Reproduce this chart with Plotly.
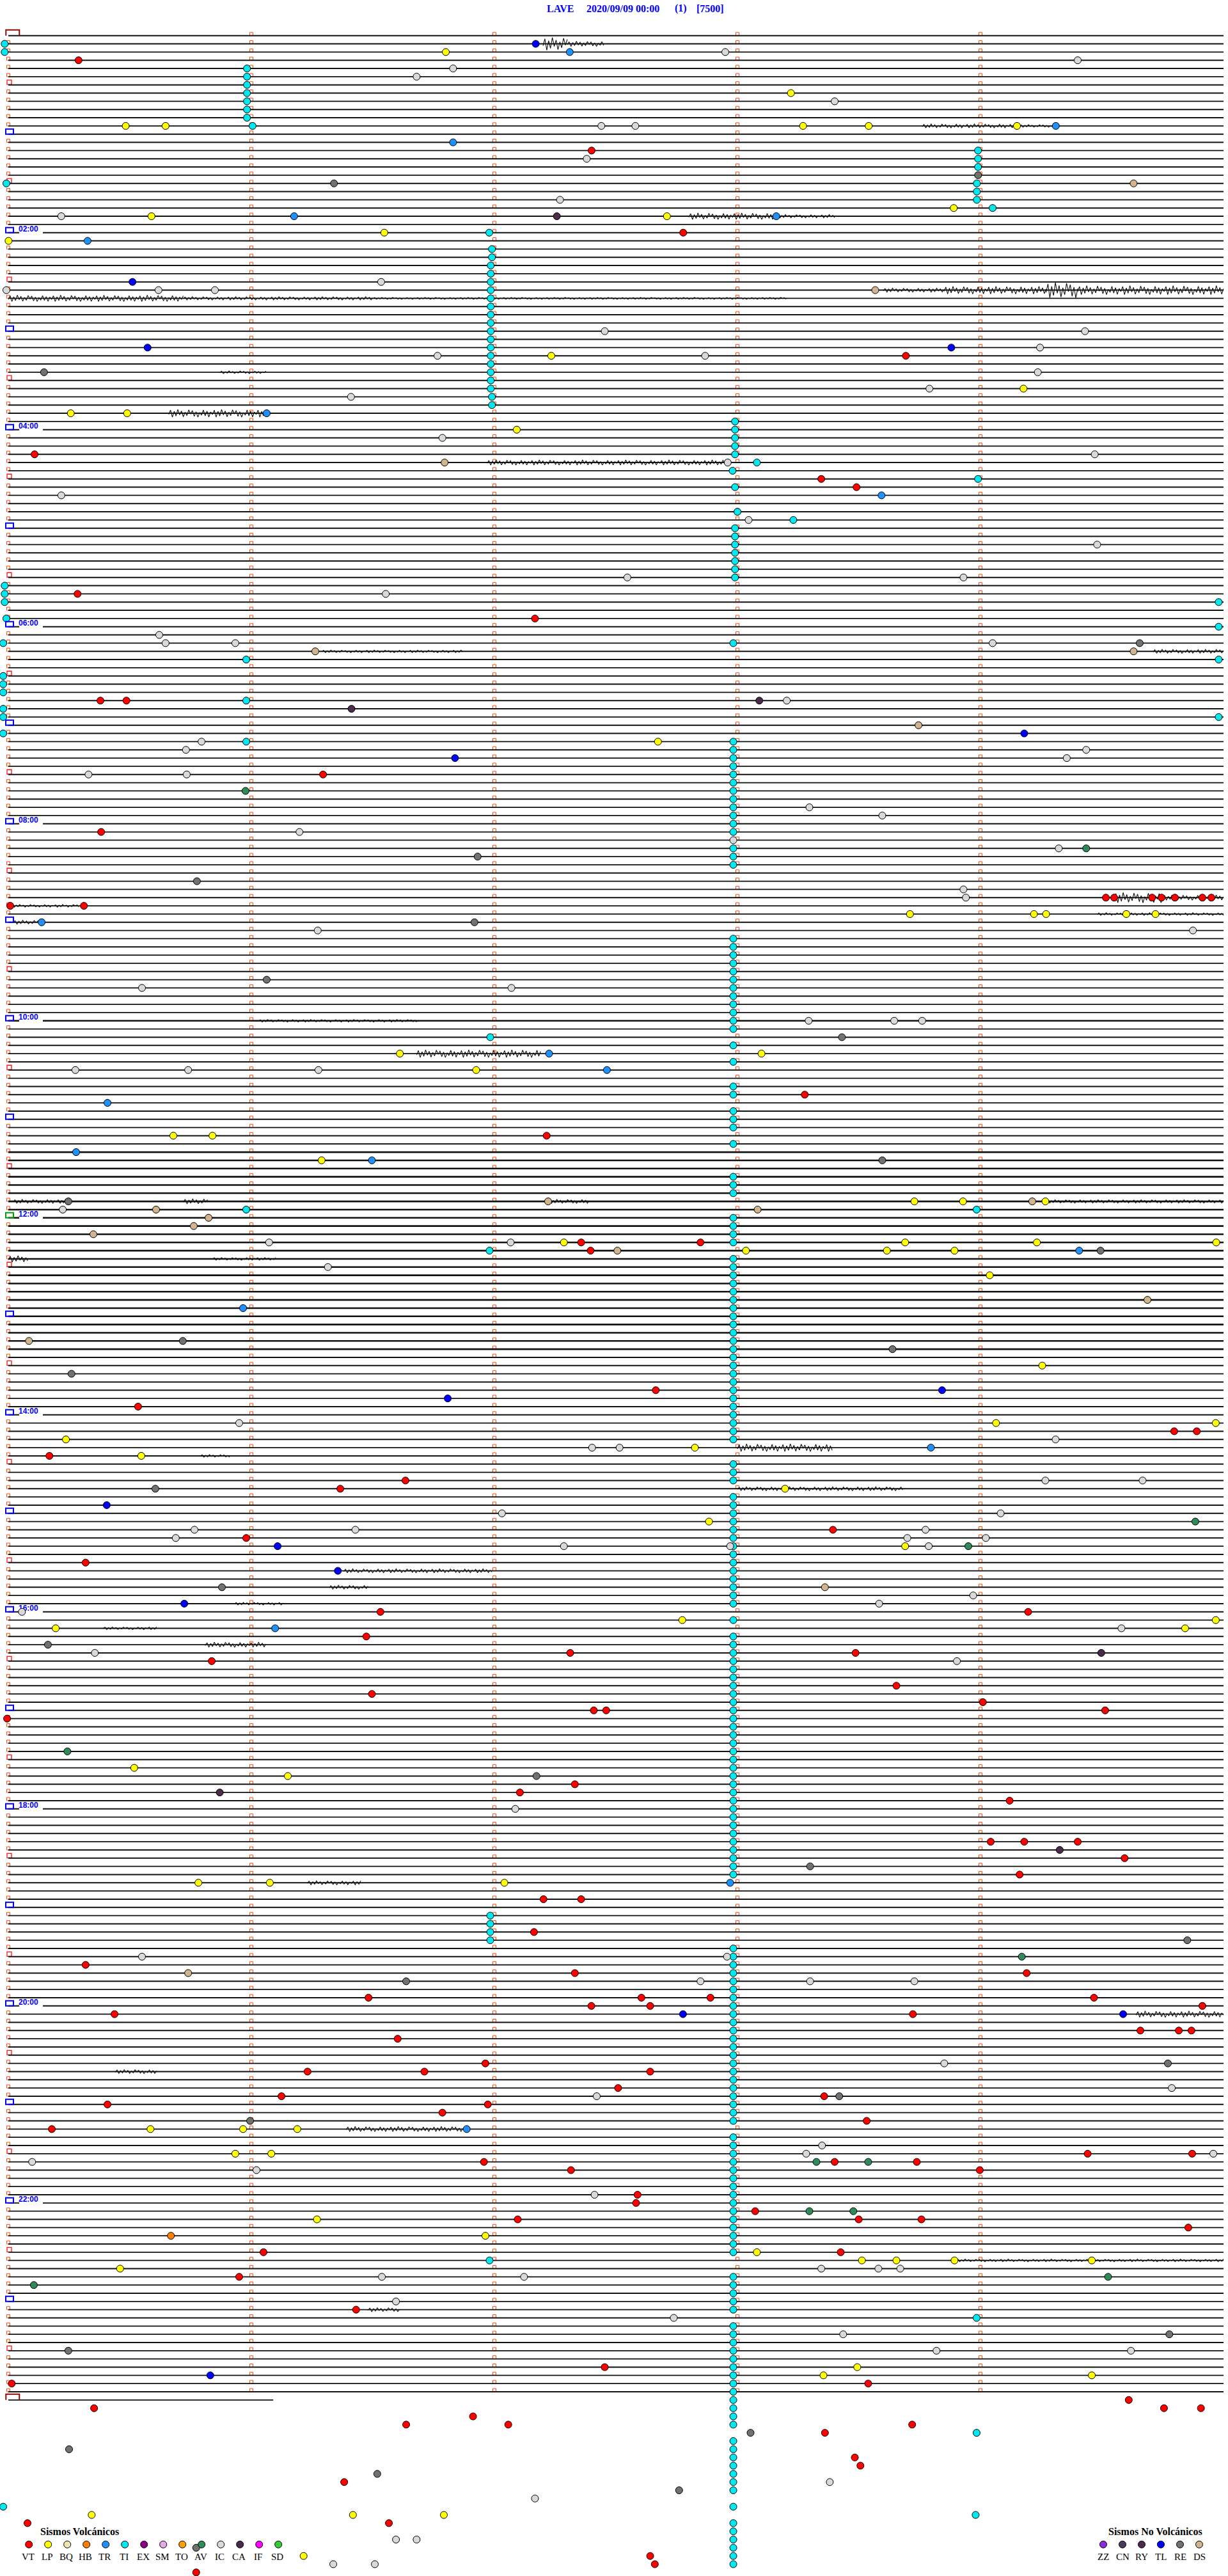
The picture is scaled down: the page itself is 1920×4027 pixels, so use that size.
import plotly.graph_objects as go

# ------------------------------------------------------------------ DATA
STATION = "LAVE"
START_LABEL = "2020/09/09 00:00"
CHANNEL_LABEL = "(1)"
SCALE_LABEL = "[7500]"

N_ROWS = 289            # 5-minute rows; row 288 is the partial one
ROW_MINUTES = 5.0
LAST_ROW_END = 1.09     # minutes drawn on the partial last row
MINUTE_TICKS = [0, 1, 2, 3, 4]

HOUR_LABEL_ROWS = [24, 48, 72, 96, 120, 144, 168, 192, 216, 240, 264]
HOUR_LABELS = ["02:00", "04:00", "06:00", "08:00", "10:00", "12:00",
               "14:00", "16:00", "18:00", "20:00", "22:00"]
HOUR_BOX_ROWS = [12, 24, 36, 48, 60, 72, 84, 96, 108, 120, 132, 144,
                 156, 168, 180, 192, 204, 216, 228, 240, 252, 264, 276]
GREEN_HOUR_ROWS = [144]
HALF_HOUR_ROWS = [6, 18, 30, 42, 54, 66, 78, 90, 102, 114, 126, 138,
                  150, 162, 174, 186, 198, 210, 222, 234, 246, 258, 270, 282]
DAY_ROWS = [0, 288]
BUSY_ROWS = [120, 136, 137, 138, 139, 140, 141, 142, 143, 144, 145, 146, 147,
             148, 149, 150, 151, 152, 153, 154, 155, 156, 157, 158, 159, 160]

# (row, start minute, end minute, half amplitude in px)
BURSTS = [
    (1, 2.20, 2.30, 10), (1, 2.30, 2.45, 4),
    (11, 3.76, 4.16, 3), (11, 4.16, 4.31, 2),
    (22, 2.80, 3.16, 5), (22, 3.16, 3.40, 2.5),
    (31, 3.60, 3.85, 3), (31, 3.85, 4.27, 6), (31, 4.27, 4.40, 12), (31, 4.40, 5.0, 7),
    (32, 0.0, 0.72, 5), (32, 0.72, 1.5, 2.5), (32, 1.5, 3.2, 1.5),
    (41, 0.87, 1.06, 2), (46, 0.66, 1.05, 6), (52, 1.97, 2.97, 4),
    (75, 1.29, 1.87, 2), (75, 4.71, 5.0, 3),
    (105, 4.55, 4.75, 8), (105, 4.75, 5.0, 4), (106, 0.01, 0.29, 2),
    (107, 4.48, 5.0, 2), (108, 0.02, 0.13, 3), (120, 1.03, 1.68, 2),
    (124, 1.68, 2.19, 6),
    (142, 0.02, 0.25, 3), (142, 0.72, 0.82, 4), (142, 2.22, 2.39, 3), (142, 4.27, 5.0, 2.5),
    (149, 0.0, 0.08, 5), (149, 0.84, 1.10, 2),
    (172, 3.0, 3.39, 6), (173, 0.79, 0.91, 2), (177, 3.0, 3.68, 3),
    (187, 1.38, 1.99, 3), (189, 1.32, 1.48, 3), (191, 0.93, 1.13, 2),
    (194, 0.39, 0.61, 2), (196, 0.81, 1.06, 4), (225, 1.23, 1.45, 3),
    (241, 4.64, 5.0, 5), (248, 0.44, 0.61, 3), (255, 1.39, 1.87, 4),
    (271, 3.9, 5.0, 2), (277, 1.48, 1.61, 3),
]
# hand-drawn jagged shape used to draw the bursts (relative amplitudes)
WIGGLE = [0.3, -0.8, 1.0, -0.5, 0.7, -1.0, 0.4, -0.6, 0.9, -0.3, 0.6, -0.9,
          0.2, -0.7, 0.8, -0.4, 1.0, -0.2, 0.5, -0.85, 0.65, -0.55, 0.95, -0.35]

# events: (row, minute within row)
EV_TI = [
    (1, -0.015), (2, -0.015), (4, 0.982), (5, 0.982), (6, 0.982), (7, 0.982), (8, 0.982),
    (9, 0.982), (10, 0.982), (11, 1.005), (14, 3.99), (15, 3.99), (16, 3.99), (18, 3.985),
    (19, 3.985), (20, 3.985), (21, 4.05), (18, -0.008), (24, 1.979),
    (26, 1.99), (27, 1.99), (28, 1.985), (29, 1.985), (30, 1.985), (31, 1.985), (32, 1.985),
    (33, 1.985), (34, 1.985), (35, 1.985), (36, 1.985), (37, 1.985), (38, 1.985), (39, 1.985),
    (40, 1.985), (41, 1.985), (42, 1.985), (43, 1.985), (44, 1.99), (45, 1.99),
    (47, 2.99), (48, 2.99), (49, 2.99), (50, 2.99), (51, 2.99), (52, 3.08), (53, 2.98),
    (54, 3.99), (55, 2.99), (58, 3.00), (59, 3.23), (60, 2.99), (61, 2.99), (62, 2.99),
    (63, 2.99), (64, 2.99), (65, 2.99), (66, 2.99),
    (67, -0.015), (68, -0.015), (69, -0.015), (69, 4.98), (71, -0.008), (72, 4.98),
    (74, -0.021), (74, 2.983), (76, 0.979), (76, 4.98), (78, -0.021), (79, -0.021),
    (80, -0.021), (81, 0.979), (82, -0.021), (83, -0.021), (83, 4.98), (85, -0.021), (86, 0.979),
    (86, 2.983), (87, 2.983), (88, 2.983), (89, 2.983), (90, 2.983), (91, 2.983), (92, 2.983),
    (93, 2.983), (94, 2.983), (95, 2.983), (96, 2.983), (97, 2.983), (99, 2.983), (100, 2.983),
    (101, 2.983), (110, 2.983), (111, 2.983), (112, 2.983), (113, 2.983), (114, 2.983),
    (115, 2.983), (116, 2.983), (117, 2.983), (118, 2.983), (119, 2.983), (120, 2.983),
    (121, 2.983), (122, 1.983), (123, 2.983), (125, 2.983), (128, 2.983), (129, 2.983),
    (131, 2.983), (132, 2.983), (133, 2.983), (135, 2.983), (139, 2.983), (140, 2.983),
    (141, 2.983), (143, 0.979), (143, 3.984), (144, 2.983), (145, 2.983), (146, 2.983),
    (147, 2.983), (148, 1.98), (149, 2.983), (150, 2.983), (151, 2.983), (152, 2.983),
    (153, 2.983), (154, 2.983), (155, 2.983), (156, 2.983), (157, 2.983), (158, 2.983),
    (159, 2.983), (160, 2.983), (161, 2.983), (162, 2.983), (163, 2.983), (164, 2.983),
    (165, 2.983), (166, 2.983), (167, 2.983), (168, 2.983), (169, 2.983), (170, 2.983),
    (171, 2.983), (174, 2.983), (175, 2.983), (176, 2.983), (178, 2.983), (179, 2.983),
    (180, 2.983), (181, 2.983), (182, 2.983), (183, 2.983), (184, 2.983), (185, 2.983),
    (186, 2.983), (187, 2.983), (188, 2.983), (189, 2.983), (190, 2.983), (191, 2.983),
    (193, 2.983), (195, 2.983), (196, 2.983), (197, 2.983), (198, 2.983), (199, 2.983),
    (200, 2.983), (201, 2.983), (202, 2.983), (203, 2.983), (204, 2.983), (205, 2.983),
    (206, 2.983), (207, 2.983), (208, 2.983), (209, 2.983), (210, 2.983), (211, 2.983),
    (212, 2.983), (213, 2.983), (214, 2.983), (215, 2.983), (216, 2.983), (217, 2.983),
    (218, 2.983), (219, 2.983), (220, 2.983), (221, 2.983), (222, 2.983), (223, 2.983),
    (224, 2.983), (229, 1.983), (230, 1.983), (231, 1.983), (232, 1.983),
    (233, 2.983), (234, 2.983), (235, 2.983), (236, 2.983), (237, 2.983), (238, 2.983),
    (239, 2.983), (240, 2.983), (241, 2.983), (242, 2.983), (243, 2.983), (244, 2.983),
    (245, 2.983), (246, 2.983), (247, 2.983), (248, 2.983), (249, 2.983), (250, 2.983),
    (251, 2.983), (252, 2.983), (253, 2.983), (254, 2.983), (256, 2.983), (257, 2.983),
    (258, 2.983), (259, 2.983), (260, 2.983), (261, 2.983), (262, 2.983), (263, 2.983),
    (264, 2.983), (265, 2.983), (266, 2.983), (267, 2.983), (268, 2.983), (269, 2.983),
    (270, 2.983), (271, 1.98), (273, 2.983), (274, 2.983), (275, 2.983), (276, 2.983),
    (277, 2.983), (278, 3.984), (279, 2.983), (280, 2.983), (281, 2.983), (282, 2.983),
    (283, 2.983), (284, 2.983), (285, 2.983), (286, 2.983), (287, 2.983), (288, 2.983),
    (289, 2.983), (290, 2.983), (291, 2.983), (292, 3.984), (293, 2.983), (294, 2.983),
    (295, 2.983), (296, 2.983), (297, 2.983), (298, 2.983), (299, 2.983), (301, -0.021),
    (301, 2.983), (302, 3.98), (303, 2.983), (304, 2.983), (305, 2.983), (306, 2.983),
    (307, 2.983), (308, 2.983),
]
EV_VT = [
    (3, 0.289), (14, 2.40), (24, 2.777), (39, 3.693), (51, 0.108), (54, 3.345), (55, 3.49),
    (68, 0.285), (71, 2.167), (81, 0.379), (81, 0.486), (90, 1.295), (97, 0.382),
    (105, 4.516), (105, 4.55), (105, 4.706), (105, 4.745), (105, 4.80), (105, 4.913),
    (105, 4.95), (106, 0.008), (106, 0.311), (129, 3.277), (134, 2.215), (147, 2.357),
    (147, 2.848), (148, 2.396), (165, 2.664), (167, 0.534), (170, 4.797), (170, 4.89),
    (173, 0.169), (176, 1.634), (177, 1.366), (182, 3.393), (183, 0.979), (186, 0.318),
    (192, 1.531), (192, 4.196), (195, 1.473), (197, 2.312), (197, 3.486), (198, 0.837),
    (201, 3.654), (202, 1.496), (203, 4.01), (204, 2.409), (204, 2.46), (204, 4.513),
    (205, -0.005), (213, 2.331), (214, 2.105), (215, 4.12), (220, 4.042), (220, 4.18),
    (220, 4.40), (222, 4.593), (224, 4.161), (227, 2.202), (227, 2.357), (231, 2.163),
    (235, 0.318), (236, 2.331), (236, 4.19), (239, 1.482), (239, 2.605), (239, 2.889),
    (239, 4.467), (240, 2.399), (240, 2.641), (240, 4.913), (241, 0.437), (241, 3.722),
    (243, 4.658), (243, 4.816), (243, 4.868), (244, 1.602), (247, 1.963), (248, 1.231),
    (248, 1.712), (248, 2.641), (250, 2.509), (251, 1.124), (251, 3.357), (252, 0.408),
    (252, 1.973), (253, 1.786), (254, 3.532), (255, 0.179), (258, 4.441), (258, 4.871),
    (259, 1.957), (259, 3.40), (259, 3.738), (260, 2.315), (260, 3.997), (263, 2.589),
    (264, 2.583), (265, 3.073), (266, 2.096), (266, 3.499), (266, 3.757), (267, 4.855),
    (270, 1.05), (270, 3.425), (273, 0.95), (277, 1.431), (284, 2.454), (286, 0.014),
    (286, 3.538), (288, 4.61), (289, 0.353), (289, 4.755), (289, 4.907), (290, 1.912),
    (291, 1.637), (291, 2.057), (291, 3.719), (292, 3.36), (295, 3.483), (296, 3.506),
    (298, 1.382), (303, 0.079), (303, 1.566), (307, 2.641), (308, 2.66), (309, 0.773),
]
EV_LP = [
    (2, 1.80), (7, 3.22), (11, 0.483), (11, 0.647), (11, 3.27), (11, 3.54), (11, 4.15),
    (21, 3.89), (22, 0.589), (22, 2.71), (24, 1.547), (25, 0.001), (39, 2.234), (43, 4.177),
    (46, 0.257), (46, 0.489), (48, 2.092), (86, 2.673),
    (107, 3.71), (107, 4.22), (107, 4.27), (107, 4.60), (107, 4.72), (124, 1.611),
    (124, 3.099), (126, 1.925), (134, 0.679), (134, 0.84), (137, 1.289), (142, 3.728),
    (142, 3.928), (142, 4.267), (147, 2.286), (147, 3.69), (147, 4.232), (147, 4.97),
    (148, 3.035), (148, 3.615), (148, 3.893), (151, 4.038), (162, 4.254), (169, 4.064),
    (169, 4.968), (171, 0.237), (172, 2.825), (173, 0.547), (177, 3.196), (181, 2.883),
    (184, 3.69), (193, 2.773), (193, 4.968), (194, 0.195), (194, 4.842),
    (211, 0.518), (212, 1.15), (225, 0.782), (225, 1.076), (225, 2.041), (255, 0.585),
    (255, 0.966), (255, 1.189), (258, 0.934), (258, 1.082), (266, 1.27), (268, 1.963),
    (270, 3.08), (271, 3.512), (271, 3.654), (271, 3.893), (271, 4.458), (272, 0.46),
    (284, 3.493), (285, 3.354), (285, 4.458), (302, 0.343), (302, 1.418), (302, 1.792),
    (307, 1.215),
]
EV_IC = [
    (2, 2.95), (3, 4.40), (4, 1.83), (5, 1.68), (8, 3.40), (11, 2.44), (11, 2.58), (15, 2.38),
    (20, 2.27), (22, 0.218), (30, 1.534), (31, -0.008), (31, 0.618), (31, 0.85), (36, 2.454),
    (36, 4.43), (38, 4.245), (39, 1.766), (39, 2.867), (41, 4.236), (43, 3.79), (44, 1.41),
    (49, 1.786), (51, 4.47), (52, 2.96), (56, 0.218), (59, 3.046), (62, 4.48), (66, 2.547),
    (66, 3.93), (68, 1.553), (73, 0.621), (74, 0.647), (74, 0.934), (74, 4.05), (81, 3.203),
    (86, 0.795), (87, 0.731), (87, 4.435), (88, 4.355), (90, 0.33), (90, 0.734), (94, 3.296),
    (95, 3.596), (97, 1.198), (98, 2.983), (99, 4.322),
    (104, 3.93), (105, 3.94), (109, 1.273), (109, 4.874), (116, 0.55), (116, 2.07),
    (120, 3.293), (120, 3.645), (120, 3.76), (126, 0.276), (126, 0.74), (126, 1.276),
    (143, 0.224), (147, 1.073), (147, 2.067), (150, 1.315), (169, 0.950), (171, 4.309),
    (172, 2.402), (172, 2.515), (176, 4.267), (176, 4.667), (180, 2.031), (180, 4.083),
    (182, 0.766), (182, 1.428), (182, 3.774), (183, 0.689), (183, 3.699), (183, 4.022),
    (184, 2.286), (184, 2.97), (184, 3.787), (190, 3.97), (191, 3.583), (192, 0.056),
    (194, 4.58), (197, 0.356), (198, 3.903),
    (216, 2.086), (234, 0.55), (234, 2.957), (237, 2.848), (237, 3.299), (237, 3.728),
    (247, 3.851), (250, 4.787), (251, 2.421), (257, 3.348), (258, 3.283), (258, 4.958),
    (259, 0.098), (260, 1.021), (263, 2.412), (272, 3.345), (272, 3.58), (272, 3.67),
    (273, 1.537), (273, 2.122), (276, 1.595), (278, 2.738), (280, 3.435), (282, 3.819),
    (282, 4.619), (298, 3.38), (300, 2.167), (305, 1.595), (305, 1.68), (308, 1.337),
    (308, 1.508),
]
EV_TR = [
    (2, 2.31), (11, 4.31), (13, 1.83), (22, 1.176), (22, 3.16), (25, 0.326), (46, 1.063),
    (56, 3.593), (108, 0.137), (124, 2.225), (126, 2.463), (130, 0.408), (136, 0.279),
    (137, 1.496), (148, 4.406), (155, 0.966), (172, 3.796), (194, 1.098), (225, 2.97),
    (255, 1.886),
]
EV_TL = [
    (1, 2.17), (30, 0.511), (38, 0.573), (38, 3.88), (85, 4.18), (88, 1.838),
    (165, 3.842), (166, 1.808), (179, 0.405), (184, 1.108), (187, 1.356), (191, 0.724),
    (241, 2.776), (241, 4.587), (285, 0.831),
]
EV_RE = [
    (17, 3.99), (18, 1.34), (41, 0.147), (74, 4.655), (100, 1.931), (103, 0.776),
    (108, 1.918), (115, 1.063), (122, 3.43), (137, 3.596), (142, 0.247), (148, 4.494),
    (159, 0.718), (160, 3.638), (163, 0.26), (177, 0.605), (189, 0.879), (196, 0.163),
    (212, 2.173), (223, 3.299), (232, 4.851), (237, 1.637), (247, 4.771), (251, 3.419),
    (254, 0.995), (280, 4.777), (282, 0.247), (292, 3.054), (294, 0.25), (297, 1.518),
    (299, 2.76), (306, 0.773),
]
EV_DS = [
    (18, 4.63), (31, 3.567), (52, 1.795), (75, 1.263), (75, 4.63), (84, 3.745),
    (142, 2.221), (142, 4.213), (143, 0.608), (143, 3.083), (144, 0.824), (145, 0.763),
    (146, 0.350), (148, 2.506), (154, 4.687), (159, 0.085), (189, 3.36), (236, 0.74),
]
EV_CA = [(22, 2.257), (81, 3.09), (82, 1.412), (197, 4.497), (214, 0.87), (221, 4.326)]
EV_AV = [
    (92, 0.976), (99, 4.435), (181, 4.884), (184, 3.95), (209, 0.243), (234, 4.17),
    (259, 3.325), (259, 3.538), (265, 3.296), (265, 3.477), (273, 4.525), (274, 0.105),
]
EV_HB = [(268, 0.669)]

EVENTS = [("TI", EV_TI), ("IC", EV_IC), ("DS", EV_DS), ("RE", EV_RE), ("CA", EV_CA),
          ("AV", EV_AV), ("HB", EV_HB), ("TR", EV_TR), ("TL", EV_TL), ("LP", EV_LP),
          ("VT", EV_VT)]

VOLC_CODES = ["VT", "LP", "BQ", "HB", "TR", "TI", "EX", "SM", "TO", "AV", "IC", "CA", "IF", "SD"]
NONVOLC_CODES = ["ZZ", "CN", "RY", "TL", "RE", "DS"]
COLORS = {
    "VT": "#FF0000", "LP": "#FFFF00", "BQ": "#EDE6B2", "HB": "#FF8000", "TR": "#1E90FF",
    "TI": "#00E8F0", "EX": "#8B008B", "SM": "#E8A8E8", "TO": "#FFA000", "AV": "#2E8B57",
    "IC": "#D9D9D9", "CA": "#4B2A4B", "IF": "#FF00FF", "SD": "#33CC33",
    "ZZ": "#8A2BE2", "CN": "#4A3A5C", "RY": "#4E2A4E", "TL": "#0000FF", "RE": "#6E736E",
    "DS": "#D2B48C",
}

# ------------------------------------------------------------------ LAYOUT / SCALES
W, H = 1920, 4027
X_RANGE = [-0.0342, 5.0184]      # minutes within a row
Y_RANGE = [309.44, -4.34]        # row index (reversed)
PX_X = W / (X_RANGE[1] - X_RANGE[0])
PX_Y = H / (Y_RANGE[0] - Y_RANGE[1])

fig = go.Figure()

# minute tick squares (under the traces)
box_rows = set(HOUR_BOX_ROWS) | set(HALF_HOUR_ROWS) | set(DAY_ROWS)
tx, ty = [], []
for r in range(N_ROWS - 1):
    for m in MINUTE_TICKS:
        if m == 0 and r in box_rows:
            continue
        tx.append(m)
        ty.append(r - 2.5 / PX_Y)
fig.add_trace(go.Scatter(x=tx, y=ty, mode="markers", hoverinfo="skip",
                         marker=dict(symbol="square-open", size=5, color="#FF4A10",
                                     line=dict(width=1, color="#FF4A10"))))
# half-hour red boxes
fig.add_trace(go.Scatter(x=[1.5 / PX_X] * len(HALF_HOUR_ROWS),
                         y=[r - 4.0 / PX_Y for r in HALF_HOUR_ROWS], mode="markers",
                         hoverinfo="skip",
                         marker=dict(symbol="square-open", size=7, color="#FF1010",
                                     line=dict(width=1.3, color="#FF1010"))))

# seismogram baselines
def row_end(r):
    return LAST_ROW_END if r == N_ROWS - 1 else ROW_MINUTES

busy = set(BUSY_ROWS)
for group, width in ((sorted(set(range(N_ROWS)) - busy), 1.9), (sorted(busy), 2.6)):
    lx, ly = [], []
    for r in group:
        lx += [0, row_end(r), None]
        ly += [r, r, None]
    fig.add_trace(go.Scatter(x=lx, y=ly, mode="lines", hoverinfo="skip",
                             line=dict(color="#111111", width=width)))

# visible waveform bursts
bx, by = [], []
for (r, a, b, amp) in BURSTS:
    n = max(2, int((b - a) * PX_X / 2.8))
    for k in range(n + 1):
        bx.append(a + (b - a) * k / n)
        by.append(r + WIGGLE[k % len(WIGGLE)] * amp / PX_Y)
    bx.append(None)
    by.append(None)
fig.add_trace(go.Scatter(x=bx, y=by, mode="lines", hoverinfo="skip",
                         line=dict(color="#111111", width=1.1)))

# hour-label masks and labels
mx, my = [], []
for r in HOUR_LABEL_ROWS:
    mx += [17 / PX_X, 54 / PX_X, None]
    my += [r - 4.5 / PX_Y, r - 4.5 / PX_Y, None]
fig.add_trace(go.Scatter(x=mx, y=my, mode="lines", hoverinfo="skip",
                         line=dict(color="white", width=12)))
fig.add_trace(go.Scatter(x=[16 / PX_X] * len(HOUR_LABEL_ROWS),
                         y=[r - 5.0 / PX_Y for r in HOUR_LABEL_ROWS],
                         mode="text", text=[f"<b>{t}</b>" for t in HOUR_LABELS],
                         textposition="middle right", hoverinfo="skip",
                         textfont=dict(family="Liberation Sans", size=12, color="#0000FF")))

# events
for code, evs in EVENTS:
    fig.add_trace(go.Scatter(x=[m for _, m in evs], y=[r for r, _ in evs], mode="markers",
                             hoverinfo="skip",
                             marker=dict(symbol="circle", size=11, color=COLORS[code],
                                         line=dict(color="black", width=1))))

# hour boxes and day boxes as shapes
shapes = []
for r in HOUR_BOX_ROWS:
    col = "#00A000" if r in GREEN_HOUR_ROWS else "#0000FF"
    shapes.append(dict(type="rect", xref="x", yref="y", x0=-4 / PX_X, x1=8 / PX_X,
                       y0=r - 8 / PX_Y, y1=r, line=dict(color=col, width=2)))
for r in DAY_ROWS:
    x0, x1, y0 = -3.7 / PX_X, 17.3 / PX_X, r - 9 / PX_Y
    shapes.append(dict(type="path", xref="x", yref="y",
                       path=f"M {x0},{r} L {x0},{y0} L {x1},{y0} L {x1},{r}",
                       line=dict(color="#8B0A0A", width=2)))

# legend (pixel-space overlay axes)
lg_x, lg_y, lg_c = [], [], []
annotations = []
for k, c in enumerate(VOLC_CODES):
    px = 45.2 + 30.0 * k
    lg_x.append(px); lg_y.append(3977.7); lg_c.append(COLORS[c])
    annotations.append(dict(x=px - 1.5, y=3997, text=c))
for k, c in enumerate(NONVOLC_CODES):
    px = 1725 + 30.0 * k
    lg_x.append(px); lg_y.append(3977.7); lg_c.append(COLORS[c])
    annotations.append(dict(x=px, y=3997, text=c))
fig.add_trace(go.Scatter(x=lg_x, y=lg_y, xaxis="x2", yaxis="y2", mode="markers",
                         hoverinfo="skip",
                         marker=dict(size=11, color=lg_c, line=dict(color="black", width=1))))

annots = []
for a in annotations:
    annots.append(dict(xref="x2", yref="y2", x=a["x"], y=a["y"], text=a["text"],
                       showarrow=False, xanchor="center", yanchor="middle",
                       font=dict(family="Liberation Serif", size=15, color="black")))
for txt, px in (("Sismos Volcánicos", 124.4), ("Sismos No Volcánicos", 1806)):
    annots.append(dict(xref="x2", yref="y2", x=px, y=3957, text=f"<b>{txt}</b>",
                       showarrow=False, xanchor="center", yanchor="middle",
                       font=dict(family="Liberation Serif", size=16, color="black")))
for txt, px in ((STATION, 852.7), (START_LABEL, 915), (CHANNEL_LABEL, 1052.7),
                (SCALE_LABEL, 1086.7)):
    annots.append(dict(xref="x2", yref="y2", x=px, y=13.3, text=f"<b>{txt}</b>",
                       showarrow=False, xanchor="left", yanchor="middle",
                       font=dict(family="Liberation Serif", size=16, color="#0000FF")))

fig.update_layout(
    width=W, height=H, autosize=False,
    margin=dict(l=0, r=0, t=0, b=0, pad=0),
    paper_bgcolor="white", plot_bgcolor="white", showlegend=False,
    xaxis=dict(range=X_RANGE, visible=False, fixedrange=True),
    yaxis=dict(range=Y_RANGE, visible=False, fixedrange=True),
    xaxis2=dict(range=[0, W], visible=False, overlaying="x", anchor="y2", fixedrange=True),
    yaxis2=dict(range=[H, 0], visible=False, overlaying="y", anchor="x2", fixedrange=True),
    shapes=shapes, annotations=annots,
)

fig.write_html("out.html", config={"displayModeBar": False, "staticPlot": True},
               post_script="document.body.style.margin='0';"
                           "document.documentElement.style.overflow='hidden';")
